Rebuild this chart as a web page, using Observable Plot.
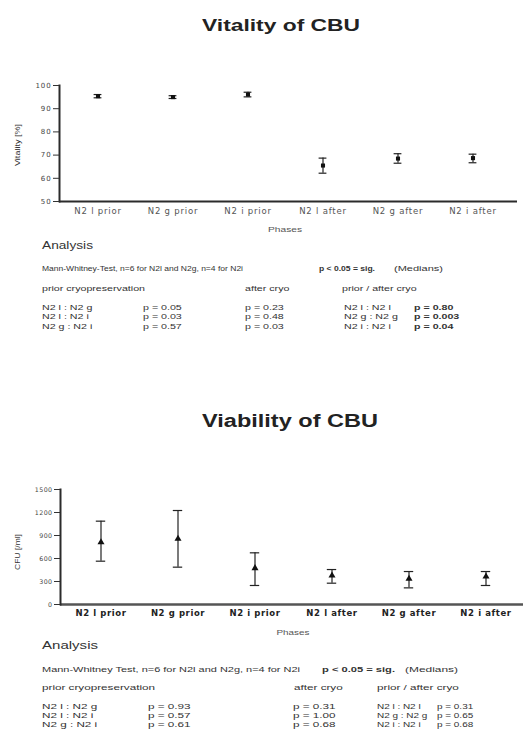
<!DOCTYPE html>
<html><head><meta charset="utf-8">
<script src="https://cdn.jsdelivr.net/npm/d3@7"></script>
<script src="https://cdn.jsdelivr.net/npm/@observablehq/plot@0.6"></script>
<style>
body{margin:0;background:#fff;width:526px;height:733px;position:relative;overflow:hidden;font-family:"Liberation Sans",Arial,sans-serif;color:#333}
.t{position:absolute;white-space:nowrap;line-height:1;transform-origin:0 0}
.chart{position:absolute;left:0}
.chart svg{overflow:visible}
#top g[aria-label="x-axis tick label"] text{letter-spacing:0.8px}
#top g[aria-label="y-axis tick label"] text{letter-spacing:0.9px}
#bot g[aria-label="x-axis tick label"] text{letter-spacing:0.6px;font-weight:bold}
#bot g[aria-label="y-axis tick label"] text{letter-spacing:0.4px}
</style></head><body>
<div id="top" class="chart" style="top:75px"></div>
<div id="bot" class="chart" style="top:470px"></div>
<script>
// ---- data ----
const categories = ["N2 l prior", "N2 g prior", "N2 i prior", "N2 l after", "N2 g after", "N2 i after"];
const vitalityMean = [95.4, 95.0, 96.1, 65.5, 68.5, 68.7];
const vitalityLow  = [94.7, 94.4, 95.1, 62.2, 66.5, 66.7];
const vitalityHigh = [96.1, 95.6, 97.1, 68.7, 70.6, 70.4];
const vitalityTicks = [50, 60, 70, 80, 90, 100];
const viabilityMean = [812, 857, 474, 378, 335, 365];
const viabilityLow  = [565, 487, 248, 278, 217, 248];
const viabilityHigh = [1087, 1226, 674, 456, 430, 430];
const viabilityTicks = [0, 300, 600, 900, 1200, 1500];

const pairsPrior = ["N2 l : N2 g", "N2 l : N2 i", "N2 g : N2 i"];
const pairsPriorAfter = ["N2 l : N2 l", "N2 g : N2 g", "N2 i : N2 i"];
const vitalityPPrior = ["0.05", "0.03", "0.57"];
const vitalityPAfter = ["0.23", "0.48", "0.03"];
const vitalityPPriorAfter = ["0.80", "0.003", "0.04"];
const viabilityPPrior = ["0.93", "0.57", "0.61"];
const viabilityPAfter = ["0.31", "1.00", "0.68"];
const viabilityPPriorAfter = ["0.31", "0.65", "0.68"];

// ---- text helper ----
function place(str, o) {
  const d = document.createElement("div");
  d.className = "t"; d.textContent = str;
  d.style.fontSize = o.size + "px";
  if (o.bold) d.style.fontWeight = "bold";
  d.style.color = o.color || "#333";
  d.style.left = o.x + "px"; d.style.top = o.y + "px";
  document.body.appendChild(d);
  const w = d.getBoundingClientRect().width;
  const s = o.sx ?? (o.width ? o.width / w : 1);
  const tx = o.anchor === "middle" ? "-50%" : "0";
  d.style.transform = o.rotate
    ? `rotate(-90deg) scaleX(${s}) translate(-50%,-50%)`
    : `scaleX(${s}) translate(${tx},-50%)`;
  return s;
}

// ---- charts ----
const vitRows = categories.map((c, i) => ({cat: c, mean: vitalityMean[i], low: vitalityLow[i], high: vitalityHigh[i]}));
const viaRows = categories.map((c, i) => ({cat: c, mean: viabilityMean[i], low: viabilityLow[i], high: viabilityHigh[i]}));

const topChart = Plot.plot({
  width: 526, height: 160, marginTop: 10, marginBottom: 34, marginLeft: 59, marginRight: 9,
  style: {fontFamily: "DejaVu Sans, sans-serif", fontSize: "7px", color: "#333", background: "transparent"},
  x: {type: "band", domain: categories, range: [59, 510], padding: 0},
  y: {domain: [50, 100]},
  marks: [
    Plot.ruleY([50], {stroke: "#2b2b2b", strokeWidth: 2}),
    Plot.frame({anchor: "left", stroke: "#2b2b2b", strokeWidth: 2}),
    Plot.axisY({ticks: vitalityTicks, tickSize: 6, tickPadding: 2, label: null, fontSize: 7, fill: "#444"}),
    Plot.axisX({tickSize: 0, tickPadding: 6.5, label: null, fontSize: 8.5, fill: "#555"}),
    Plot.ruleX(vitRows, {x: "cat", y1: "low", y2: "high", stroke: "#222", strokeWidth: 1.2}),
    Plot.tickY(vitRows, {x: "cat", y: "low", insetLeft: 33.6, insetRight: 33.6, stroke: "#222", strokeWidth: 1.2}),
    Plot.tickY(vitRows, {x: "cat", y: "high", insetLeft: 33.6, insetRight: 33.6, stroke: "#222", strokeWidth: 1.2}),
    Plot.dot(vitRows, {x: "cat", y: "mean", symbol: "square", r: 2.3, fill: "#111"})
  ]
});
document.getElementById("top").appendChild(topChart);

const botChart = Plot.plot({
  width: 526, height: 160, marginTop: 19, marginBottom: 26, marginLeft: 60, marginRight: 3,
  style: {fontFamily: "DejaVu Sans, sans-serif", fontSize: "7px", color: "#333", background: "transparent"},
  x: {type: "band", domain: categories, range: [60, 526], padding: 0},
  y: {domain: [0, 1500]},
  marks: [
    Plot.ruleY([0], {stroke: "#555", strokeWidth: 2.6}),
    Plot.frame({anchor: "left", stroke: "#2b2b2b", strokeWidth: 2}),
    Plot.axisY({ticks: viabilityTicks, tickFormat: d3.format("d"), tickSize: 6, tickPadding: 2, label: null, fontSize: 6.3, fill: "#444"}),
    Plot.axisX({tickSize: 0, tickPadding: 5.5, label: null, fontSize: 8.5, fill: "#222"}),
    Plot.ruleX(viaRows, {x: "cat", y1: "low", y2: "high", stroke: "#222", strokeWidth: 1.2}),
    Plot.tickY(viaRows, {x: "cat", y: "low", insetLeft: 33.8, insetRight: 33.8, stroke: "#222", strokeWidth: 1.2}),
    Plot.tickY(viaRows, {x: "cat", y: "high", insetLeft: 33.8, insetRight: 33.8, stroke: "#222", strokeWidth: 1.2}),
    Plot.dot(viaRows, {x: "cat", y: "mean", symbol: "triangle", r: 2.6, fill: "#111"})
  ]
});
document.getElementById("bot").appendChild(botChart);

// ---- texts: top block ----
place("Vitality of CBU", {x: 281, y: 25, size: 17, bold: true, width: 158, anchor: "middle", color: "#222"});
place("Vitality [%]", {x: 18, y: 145, size: 7.5, width: 42, rotate: true});
place("Phases", {x: 285, y: 230, size: 7.5, width: 34, anchor: "middle", color: "#555"});
place("Analysis", {x: 42, y: 245, size: 10.5, width: 51});
place("Mann-Whitney-Test, n=6 for N2l and N2g, n=4 for N2i", {x: 42, y: 268, size: 7, width: 201});
place("p < 0.05 = sig.", {x: 319, y: 268, size: 7, width: 56, bold: true});
place("(Medians)", {x: 394, y: 268, size: 7, width: 49});
const sxTop = place("prior cryopreservation", {x: 42, y: 288, size: 7, width: 103});
place("after cryo", {x: 245, y: 288, size: 7, sx: sxTop});
place("prior / after cryo", {x: 342, y: 288, size: 7, sx: sxTop});
[306.5, 316, 325.5].forEach((y, i) => {
  place(pairsPrior[i], {x: 42, y, size: 7, sx: sxTop});
  place("p = " + vitalityPPrior[i], {x: 143, y, size: 7, sx: sxTop});
  place("p = " + vitalityPAfter[i], {x: 245, y, size: 7, sx: sxTop});
  place(pairsPriorAfter[i], {x: 344, y, size: 7, sx: sxTop});
  place("p = " + vitalityPPriorAfter[i], {x: 414, y, size: 7, sx: sxTop, bold: true});
});

// ---- texts: bottom block ----
place("Viability of CBU", {x: 290, y: 422, size: 17.5, bold: true, width: 176, anchor: "middle", color: "#222"});
place("CFU [/ml]", {x: 18, y: 552, size: 7.5, width: 36, rotate: true});
place("Phases", {x: 293, y: 633, size: 7.5, width: 33, anchor: "middle", color: "#555"});
place("Analysis", {x: 42, y: 645, size: 11, width: 56});
place("Mann-Whitney Test, n=6 for N2l and N2g, n=4 for N2i", {x: 42, y: 670, size: 7.5, width: 258});
place("p < 0.05 = sig.", {x: 322, y: 670, size: 7.5, width: 73, bold: true});
place("(Medians)", {x: 405, y: 670, size: 7.5, width: 53});
const sxBot = place("prior cryopreservation", {x: 42, y: 688, size: 7.5, width: 113});
place("after cryo", {x: 294, y: 688, size: 7.5, sx: sxBot});
place("prior / after cryo", {x: 377, y: 688, size: 7.5, sx: sxBot});
const sxCol4 = sxBot * 0.85;
[706.5, 715.5, 724.5].forEach((y, i) => {
  place(pairsPrior[i], {x: 42, y, size: 7.5, sx: sxBot});
  place("p = " + viabilityPPrior[i], {x: 148, y, size: 7.5, sx: sxBot});
  place("p = " + viabilityPAfter[i], {x: 293, y, size: 7.5, sx: sxBot});
  place(pairsPriorAfter[i], {x: 377, y, size: 7.5, sx: sxCol4});
  place("p = " + viabilityPPriorAfter[i], {x: 437, y, size: 7.5, sx: sxCol4});
});
</script>
</body></html>
